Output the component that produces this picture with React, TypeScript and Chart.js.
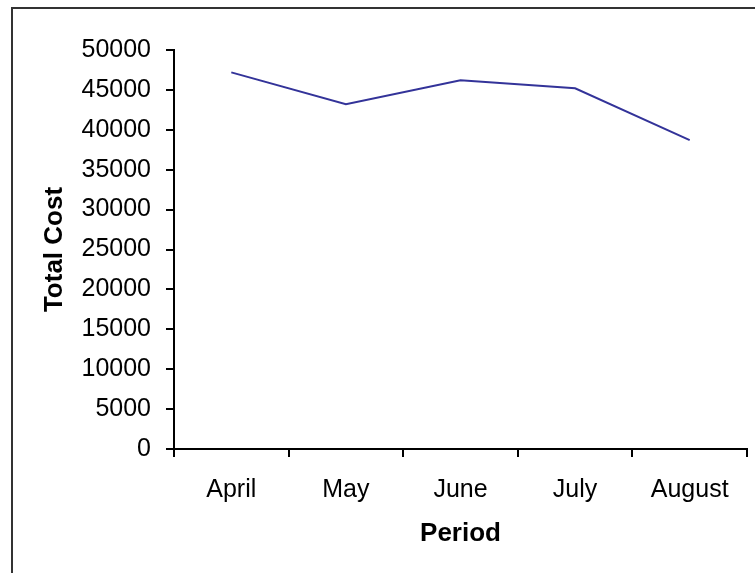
import React, { useEffect, useRef } from "react";
import { Chart, registerables } from "chart.js";

Chart.register(...registerables);

const categories = ["April", "May", "June", "July", "August"];
const totalCost = [47200, 43200, 46200, 45200, 38700];
const yMin = 0;
const yMax = 50000;
const yStep = 5000;

const framePlugin = {
  id: "frame",
  afterDraw(chart: any) {
    const ctx = chart.ctx;
    ctx.save();
    ctx.strokeStyle = "#333333";
    ctx.lineWidth = 2;
    ctx.strokeRect(12, 8, 800, 600);
    ctx.restore();
  },
};

export default function App() {
  const ref = useRef<HTMLCanvasElement | null>(null);
  useEffect(() => {
    if (!ref.current) return;
    const font = "'Liberation Sans', Arial, sans-serif";
    const chart = new Chart(ref.current, {
      type: "line",
      data: {
        labels: categories,
        datasets: [
          {
            label: "Total Cost",
            data: totalCost,
            borderColor: "#333399",
            backgroundColor: "#333399",
            borderWidth: 2,
            pointRadius: 0,
            tension: 0,
            fill: false,
          },
        ],
      },
      options: {
        animation: false,
        responsive: false,
        maintainAspectRatio: false,
        layout: { padding: { top: 50, right: 8, bottom: 0, left: 0 } },
        plugins: {
          legend: { display: false },
          tooltip: { enabled: false },
        },
        scales: {
          x: {
            type: "category",
            offset: true,
            afterFit(scale: any) {
              scale.height = 124;
            },
            grid: {
              offset: true,
              drawOnChartArea: false,
              drawTicks: true,
              tickLength: 8,
              color: "#000000",
              lineWidth: 2,
            },
            border: { display: true, color: "#000000", width: 2 },
            ticks: {
              color: "#000000",
              padding: 18,
              maxRotation: 0,
              autoSkip: false,
              font: { family: font, size: 25 },
            },
            title: {
              display: true,
              text: "Period",
              color: "#000000",
              font: { family: font, size: 26, weight: "bold" },
              padding: { top: 0, bottom: 24 },
            },
          },
          y: {
            min: yMin,
            max: yMax,
            afterFit(scale: any) {
              scale.width = 174;
            },
            grid: {
              drawOnChartArea: false,
              drawTicks: true,
              tickLength: 8,
              color: "#000000",
              lineWidth: 2,
            },
            border: { display: true, color: "#000000", width: 2 },
            ticks: {
              stepSize: yStep,
              color: "#000000",
              padding: 15,
              font: { family: font, size: 25 },
              callback: (value: any) => String(value),
            },
            title: {
              display: true,
              text: "Total Cost",
              color: "#000000",
              font: { family: font, size: 26, weight: "bold" },
              padding: { top: 39, bottom: 0 },
            },
          },
        },
      },
      plugins: [framePlugin],
    });
    return () => chart.destroy();
  }, []);

  return (
    <div style={{ position: "absolute", left: 0, top: 0, width: 755, height: 573, background: "#ffffff" }}>
      <canvas ref={ref} width={755} height={573} style={{ display: "block" }} />
    </div>
  );
}
